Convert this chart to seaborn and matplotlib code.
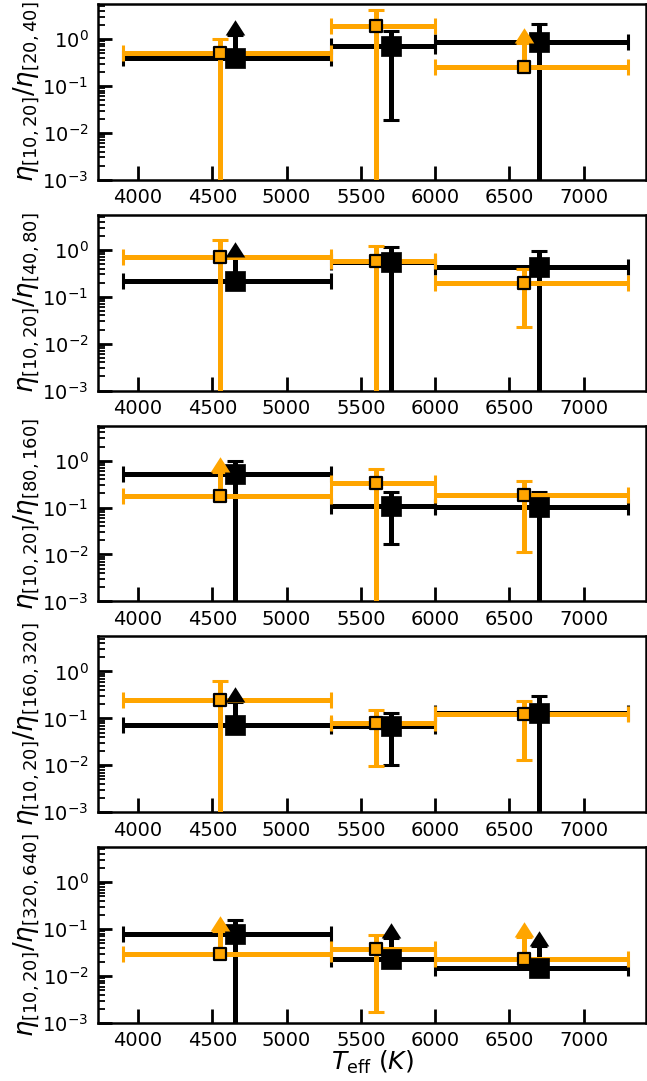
import numpy as np
import matplotlib
matplotlib.use("Agg")
import matplotlib.pyplot as plt
import seaborn as sns
import pandas as pd
from matplotlib.ticker import LogLocator, FixedLocator, NullFormatter

sns.set_theme(style="ticks")
plt.rcParams['font.family'] = ['DejaVu Sans']
plt.rcParams['mathtext.fontset'] = 'dejavusans'
for k in ['axes.edgecolor', 'xtick.color', 'ytick.color', 'text.color', 'axes.labelcolor']:
    plt.rcParams[k] = 'black'

# ---------------- data ----------------
teff_black = [4650, 5700, 6700]
teff_orange = [4550, 5600, 6600]
bin_lo = [3900, 5300, 6000]
bin_hi = [5300, 6000, 7300]
denominators = ["[20,40]", "[40,80]", "[80,160]", "[160,320]", "[320,640]"]
xticks = [4000, 4500, 5000, 5500, 6000, 6500, 7000]
BOTTOM = 1e-6  # error bar reaching below the axis

# black series: value, upper end, lower end, lower-limit flag
black_y = [[0.39, 0.73, 0.85], [0.22, 0.54, 0.44], [0.53, 0.11, 0.105],
           [0.072, 0.07, 0.128], [0.078, 0.0228, 0.015]]
black_hi = [[1.22, 1.46, 2.1], [0.70, 1.18, 0.94], [1.0, 0.21, 0.21],
            [0.22, 0.13, 0.30], [0.158, 0.066, 0.044]]
black_lo = [[None, 0.019, BOTTOM], [None, BOTTOM, BOTTOM], [BOTTOM, 0.017, BOTTOM],
            [None, 0.0102, BOTTOM], [BOTTOM, None, None]]
black_lolim = [[True, False, False], [True, False, False], [False, False, False],
               [True, False, False], [False, True, True]]

# orange series
orange_y = [[0.50, 1.86, 0.26], [0.70, 0.59, 0.20], [0.18, 0.33, 0.19],
            [0.25, 0.079, 0.124], [0.029, 0.0385, 0.0235]]
orange_hi = [[1.0, 4.2, 0.82], [1.64, 1.24, 0.40], [0.57, 0.67, 0.37],
             [0.62, 0.153, 0.23], [0.092, 0.076, 0.0685]]
orange_lo = [[BOTTOM, BOTTOM, None], [BOTTOM, BOTTOM, 0.023], [None, BOTTOM, 0.0114],
             [BOTTOM, 0.0097, 0.0128], [None, 0.0017, None]]
orange_lolim = [[False, False, True], [False, False, False], [True, False, False],
                [False, False, False], [True, False, True]]

BLACK = 'black'
ORANGE = '#FFA500'
arrow_marker = [(-1, 0), (1, 0), (0, 1.56), (-1, 0)]

fig = plt.figure(figsize=(6.47, 10.81), dpi=100)
gs = fig.add_gridspec(5, 1, left=98/647, right=646/647, top=1-4/1081,
                      bottom=58/1081, hspace=0.199)


def draw_series(ax, x, y, lo, hi, lolim, color, zbar, zmark, ms, face, edge, mew):
    x = np.array(x, float)
    y = np.array(y, float)
    hi = np.array(hi, float)
    lo = np.array([yy if (l is None or f) else l for yy, l, f in zip(y, lo, lolim)], float)
    yerr = np.vstack([y - lo, hi - y])
    xerr = np.vstack([x - np.array(bin_lo), np.array(bin_hi) - x])
    ax.errorbar(x, y, xerr=xerr, yerr=yerr, fmt='none', ecolor=color,
                elinewidth=3.6, capsize=6, capthick=2.2, zorder=zbar)
    df = pd.DataFrame({'x': x, 'y': y})
    sns.scatterplot(data=df, x='x', y='y', ax=ax, marker='s', s=ms**2,
                    color=face, edgecolor=edge, linewidth=mew, zorder=zmark,
                    legend=False)
    lim = np.array(lolim)
    if lim.any():
        ax.plot(x[lim], hi[lim], linestyle='none', marker=arrow_marker,
                markersize=22, color=color, markeredgewidth=0, zorder=zmark)


axes = []
for i in range(5):
    ax = fig.add_subplot(gs[i])
    axes.append(ax)
    draw_series(ax, teff_black, black_y[i], black_lo[i], black_hi[i], black_lolim[i],
                BLACK, 2, 4, 15, BLACK, BLACK, 0.5)
    draw_series(ax, teff_orange, orange_y[i], orange_lo[i], orange_hi[i], orange_lolim[i],
                ORANGE, 3, 5, 8, ORANGE, BLACK, 1.6)
    ax.set_yscale('log')
    ax.set_ylim(1e-3, 5.6)
    ax.set_xlim(3730, 7420)
    ax.xaxis.set_major_locator(FixedLocator(xticks))
    ax.yaxis.set_major_locator(LogLocator(base=10, numticks=10))
    ax.yaxis.set_minor_locator(LogLocator(base=10, subs=np.arange(2, 10), numticks=20))
    ax.yaxis.set_minor_formatter(NullFormatter())
    ax.tick_params(axis='both', which='major', direction='in', length=10, width=2,
                   labelsize=14, top=False, right=False)
    ax.tick_params(axis='y', which='major', pad=7)
    ax.tick_params(axis='x', which='major', pad=6)
    ax.tick_params(axis='y', which='minor', direction='in', length=5, width=1.3,
                   right=False)
    for sp in ax.spines.values():
        sp.set_linewidth(1.8)
        sp.set_color('black')
    ax.set_xlabel('')
    ax.set_ylabel(r'$\eta_{[10,20]}/\eta_{' + denominators[i] + r'}$', fontsize=18.5,
                  labelpad=1)

axes[-1].set_xlabel(r'$T_{\rm eff}\ (K)$', fontsize=18, labelpad=-1)

fig.savefig('out.png', dpi=100)
